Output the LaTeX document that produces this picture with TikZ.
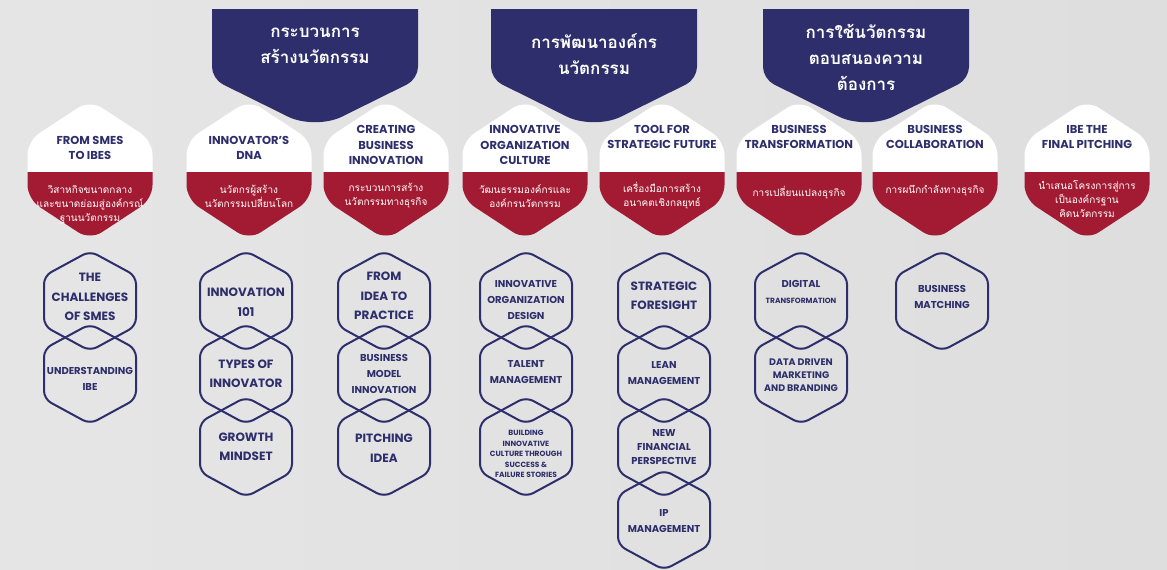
\documentclass[tikz,border=0pt]{standalone}
\usepackage{fontspec}
\newfontfamily\enfont{Poppins}
\newfontfamily\thaifont[Script=Thai]{Loma}
\usepackage{xcolor}
\definecolor{ibenavy}{RGB}{45, 46, 107}
\definecolor{ibered}{RGB}{163, 27, 50}
\usetikzlibrary{positioning}

\tikzset{
    hexline/.style={draw=ibenavy, line width=2pt, rounded corners=8pt},
    pics/lowhex/.style={code={
        \draw[hexline] (0,-50) -- (46,-25) -- (46,25) -- (0,50) -- (-46,25) -- (-46,-25) -- cycle;
    }},
    pics/topcard/.style={code={
        \begin{scope}
            \clip[rounded corners=14pt] (0,-70) -- (62.5,-29) -- (62.5,29) -- (0,70) -- (-62.5,29) -- (-62.5,-29) -- cycle;
            \fill[white] (-70,-75) rectangle (70,2);
            \fill[ibered] (-70,2) rectangle (70,75);
        \end{scope}
    }},
    pics/banner/.style={code={
        \fill[ibenavy] (-103,0) -- (103,0) [rounded corners=12pt] -- (103,70) [rounded corners=30pt] -- (0,121) [rounded corners=12pt] -- (-103,70) [sharp corners] -- cycle;
    }},
    bannertext/.style={text=white, align=center, font=\thaifont\bfseries\fontsize{17}{26}\selectfont},
    cardtitle/.style={text=ibenavy, align=center, font=\enfont\bfseries\fontsize{11.5}{15.5}\selectfont},
    cardthai/.style={text=white, align=center, font=\thaifont\fontsize{10}{14}\selectfont},
    hexbig/.style={text=ibenavy, align=center, font=\enfont\bfseries\fontsize{12}{19.5}\selectfont},
    hexmid/.style={text=ibenavy, align=center, font=\enfont\bfseries\fontsize{10}{16}\selectfont},
    hexsmall/.style={text=ibenavy, align=center, font=\enfont\bfseries\fontsize{7.5}{10.5}\selectfont},
}

\begin{document}
\begin{tikzpicture}[x=1pt, y=-1pt]
    \useasboundingbox (0,0) rectangle (1167,570);
    % Background
    \shade[left color=gray!20, middle color=gray!5, right color=gray!26] (0,0) rectangle (1167,570);

    % Banners
    \pic at (315,9) {banner};
    \pic at (594,9) {banner};
    \pic at (866,9) {banner};
    \node[bannertext] (b1) at (315,46) {กระบวนการ\\สร้างนวัตกรรม};
    \node[bannertext] (b2) at (594,54) {การพัฒนาองค์กร\\นวัตกรรม};
    \node[bannertext] (b3) at (866,57) {การใช้นวัตกรรม\\ตอบสนองความ\\ต้องการ};

    % Top cards
    \pic at (90,170) {topcard};
    \pic at (249,170) {topcard};
    \pic at (386,170) {topcard};
    \pic at (525,170) {topcard};
    \pic at (662,170) {topcard};
    \pic at (799,170) {topcard};
    \pic at (935,170) {topcard};
    \pic at (1087,170) {topcard};

    \node[cardtitle] (c1) at (90,148) {FROM SMES\\TO IBES};
    \node[cardtitle] (c2) at (249,148) {INNOVATOR’S\\DNA};
    \node[cardtitle] (c3) at (386,145) {CREATING\\BUSINESS\\INNOVATION};
    \node[cardtitle] (c4) at (525,145) {INNOVATIVE\\ORGANIZATION\\CULTURE};
    \node[cardtitle] (c5) at (662,137) {TOOL FOR\\STRATEGIC FUTURE};
    \node[cardtitle] (c6) at (799,137) {BUSINESS\\TRANSFORMATION};
    \node[cardtitle] (c7) at (935,137) {BUSINESS\\COLLABORATION};
    \node[cardtitle] (c8) at (1087,137) {IBE THE\\FINAL PITCHING};

    \node[cardthai] (d1) at (90,205) {วิสาหกิจขนาดกลาง\\และขนาดย่อมสู่องค์กรณ์\\ฐานนวัตกรรม};
    \node[cardthai] (d2) at (249,196) {นวัตกรผู้สร้าง\\นวัตกรรมเปลี่ยนโลก};
    \node[cardthai] (d3) at (386,196) {กระบวนการสร้าง\\นวัตกรรมทางธุรกิจ};
    \node[cardthai] (d4) at (525,196) {วัฒนธรรมองค์กรและ\\องค์กรนวัตกรรม};
    \node[cardthai] (d5) at (662,196) {เครื่องมือการสร้าง\\อนาคตเชิงกลยุทธ์};
    \node[cardthai] (d6) at (799,193) {การเปลี่ยนแปลงธุรกิจ};
    \node[cardthai] (d7) at (935,191) {การผนึกกำลังทางธุรกิจ};
    \node[cardthai] (d8) at (1087,199) {นำเสนอโครงการสู่การ\\เป็นองค์กรฐาน\\คิดนวัตกรรม};

    % Hexagon chains
    \pic at (90,301) {lowhex};
    \pic at (90,374) {lowhex};
    \node[hexbig] (h11) at (90,297) {THE\\CHALLENGES\\OF SMES};
    \node[hexmid] (h12) at (90,379) {UNDERSTANDING\\IBE};

    \pic at (246,301) {lowhex};
    \pic at (246,374) {lowhex};
    \pic at (246,447) {lowhex};
    \node[hexbig] (h21) at (246,302) {INNOVATION\\101};
    \node[hexbig] (h22) at (246,374) {TYPES OF\\INNOVATOR};
    \node[hexbig] (h23) at (246,447) {GROWTH\\MINDSET};

    \pic at (384,301) {lowhex};
    \pic at (384,374) {lowhex};
    \pic at (384,447) {lowhex};
    \node[hexbig] (h31) at (384,296) {FROM\\IDEA TO\\PRACTICE};
    \node[hexmid] (h32) at (384,374) {BUSINESS\\MODEL\\INNOVATION};
    \node[hexbig] (h33) at (384,448) {PITCHING\\IDEA};

    \pic at (526,301) {lowhex};
    \pic at (526,374) {lowhex};
    \pic at (526,447) {lowhex};
    \node[hexmid] (h41) at (526,300) {INNOVATIVE\\ORGANIZATION\\DESIGN};
    \node[hexmid] (h42) at (526,372) {TALENT\\MANAGEMENT};
    \node[hexsmall] (h43) at (526,454) {BUILDING\\INNOVATIVE\\CULTURE THROUGH\\SUCCESS \&\\FAILURE STORIES};

    \pic at (664,301) {lowhex};
    \pic at (664,374) {lowhex};
    \pic at (664,447) {lowhex};
    \pic at (664,520) {lowhex};
    \node[hexbig] (h51) at (664,296) {STRATEGIC\\FORESIGHT};
    \node[hexmid] (h52) at (664,373) {LEAN\\MANAGEMENT};
    \node[hexmid, font=\enfont\bfseries\fontsize{10}{14}\selectfont] (h53) at (664,447) {NEW\\FINANCIAL\\PERSPECTIVE};
    \node[hexmid] (h54) at (664,521) {IP\\MANAGEMENT};

    \pic at (801,301) {lowhex};
    \pic at (801,374) {lowhex};
    \node[hexmid] (h61) at (801,284) {DIGITAL};
    \node[hexsmall] (h61b) at (801,301) {TRANSFORMATION};
    \node[hexmid, font=\enfont\bfseries\fontsize{9.5}{13}\selectfont] (h62) at (801,375) {DATA DRIVEN\\MARKETING\\AND BRANDING};

    \pic at (942,301) {lowhex};
    \node[hexmid] (h71) at (942,297) {BUSINESS\\MATCHING};
\end{tikzpicture}
\end{document}
